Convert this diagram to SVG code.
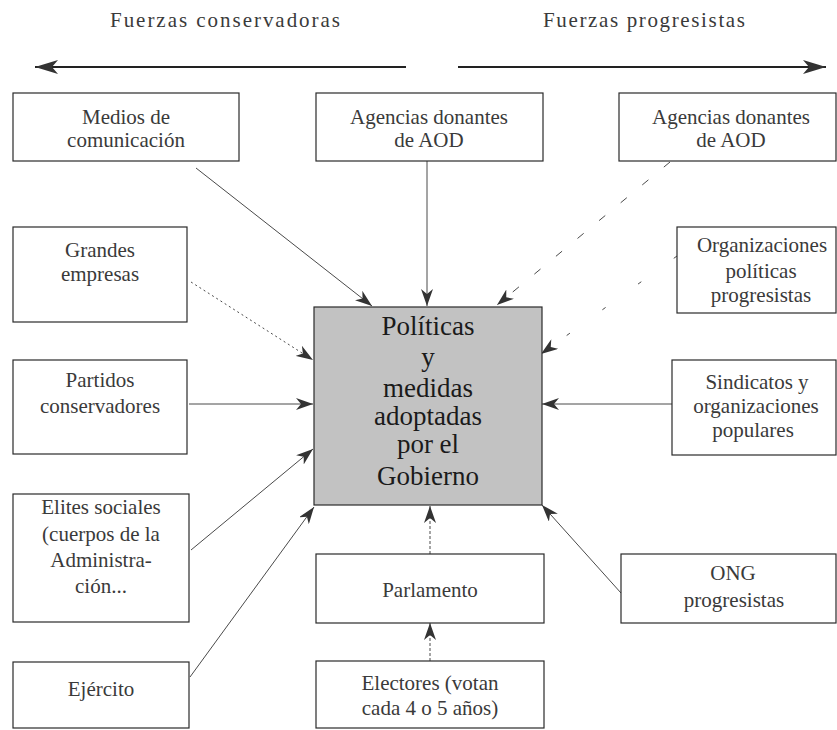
<svg xmlns="http://www.w3.org/2000/svg" width="837" height="730" viewBox="0 0 837 730">
<style>
  .box { fill: #ffffff; stroke: #2a2a2a; stroke-width: 1.2; }
  .center { fill: #c2c2c2; stroke: #2a2a2a; stroke-width: 1.2; }
  text { font-family: "Liberation Serif", "DejaVu Serif", serif; text-anchor: middle; }
  .t { font-size: 21px; fill: #3a3a3a; }
  .tc { font-size: 27px; fill: #1a1a1a; }
  .th { font-size: 21px; fill: #3a3a3a; }
  .c { fill: none; stroke: #4a4a4a; stroke-width: 1; marker-end: url(#ah); }
</style>
<defs>
  <marker id="ah" markerUnits="userSpaceOnUse" markerWidth="18" markerHeight="12" refX="17" refY="6" orient="auto">
    <path d="M0,0 L17,6 L0,12 L5,6 Z" fill="#333"/>
  </marker>
  <marker id="big" markerUnits="userSpaceOnUse" markerWidth="24" markerHeight="14" refX="23" refY="7" orient="auto">
    <path d="M0,0 L23,7 L0,14 L6,7 Z" fill="#333"/>
  </marker>
</defs>

<g id="header">
  <text class="th" x="225" y="27" textLength="230" lengthAdjust="spacing">Fuerzas conservadoras</text>
  <text class="th" x="644" y="27" textLength="202" lengthAdjust="spacing">Fuerzas progresistas</text>
  <line x1="406" y1="67" x2="35" y2="67" stroke="#222" stroke-width="2" marker-end="url(#big)"/>
  <line x1="458" y1="67" x2="826" y2="67" stroke="#222" stroke-width="2" marker-end="url(#big)"/>
</g>

<g id="connectors">
  <line class="c" x1="196" y1="168" x2="372" y2="306"/>
  <line class="c" x1="427" y1="161" x2="427" y2="306" stroke="#333"/>
  <line class="c" x1="670" y1="162" x2="497" y2="305" stroke="#777" stroke-dasharray="8,20"/>
  <line class="c" x1="191" y1="282" x2="313" y2="360" stroke-dasharray="2,3"/>
  <line class="c" x1="677" y1="256" x2="541" y2="354" stroke="#888" stroke-dasharray="4,40"/>
  <line class="c" x1="189" y1="404" x2="313" y2="404"/>
  <line class="c" x1="672" y1="404" x2="542" y2="404" stroke="#666"/>
  <line class="c" x1="191" y1="550" x2="313" y2="449" stroke="#888"/>
  <line class="c" x1="190" y1="677" x2="314" y2="507" stroke="#777"/>
  <line class="c" x1="621" y1="593" x2="542" y2="505"/>
  <line class="c" x1="430" y1="554" x2="430" y2="506" stroke-dasharray="3,2"/>
  <line class="c" x1="430" y1="661" x2="430" y2="623" stroke-dasharray="3,2"/>
</g>

<g id="politicas">
  <rect class="center" x="314" y="307" width="228" height="198"/>
  <text class="tc" x="428" y="335">Políticas</text>
  <text class="tc" x="428" y="366">y</text>
  <text class="tc" x="428" y="397">medidas</text>
  <text class="tc" x="428" y="425">adoptadas</text>
  <text class="tc" x="428" y="453">por el</text>
  <text class="tc" x="428" y="485">Gobierno</text>
</g>

<g id="medios">
  <rect class="box" x="13" y="93" width="226" height="68"/>
  <text class="t" x="126" y="124">Medios de</text>
  <text class="t" x="126" y="147">comunicación</text>
</g>

<g id="agencias1">
  <rect class="box" x="316" y="93" width="227" height="68"/>
  <text class="t" x="429" y="124">Agencias donantes</text>
  <text class="t" x="429" y="147">de AOD</text>
</g>

<g id="agencias2">
  <rect class="box" x="619" y="93" width="217" height="68"/>
  <text class="t" x="731" y="124">Agencias donantes</text>
  <text class="t" x="731" y="147">de AOD</text>
</g>

<g id="grandes">
  <rect class="box" x="13" y="227" width="174" height="95"/>
  <text class="t" x="100" y="257">Grandes</text>
  <text class="t" x="100" y="281">empresas</text>
</g>

<g id="organizaciones">
  <rect class="box" x="677" y="227" width="159" height="86"/>
  <text class="t" x="762" y="252">Organizaciones</text>
  <text class="t" x="761" y="278">políticas</text>
  <text class="t" x="761" y="302">progresistas</text>
</g>

<g id="partidos">
  <rect class="box" x="13" y="360" width="174" height="94"/>
  <text class="t" x="100" y="387">Partidos</text>
  <text class="t" x="100" y="413">conservadores</text>
</g>

<g id="sindicatos">
  <rect class="box" x="672" y="360" width="164" height="95"/>
  <text class="t" x="757" y="389">Sindicatos y</text>
  <text class="t" x="756" y="413">organizaciones</text>
  <text class="t" x="753" y="437">populares</text>
</g>

<g id="elites">
  <rect class="box" x="13" y="494" width="176" height="128"/>
  <text class="t" x="101" y="514">Elites sociales</text>
  <text class="t" x="101" y="541">(cuerpos de la</text>
  <text class="t" x="101" y="567">Administra-</text>
  <text class="t" x="101" y="593">ción...</text>
</g>

<g id="ejercito">
  <rect class="box" x="13" y="662" width="176" height="66"/>
  <text class="t" x="101" y="696">Ejército</text>
</g>

<g id="parlamento">
  <rect class="box" x="316" y="554" width="228" height="69"/>
  <text class="t" x="430" y="597">Parlamento</text>
</g>

<g id="electores">
  <rect class="box" x="316" y="661" width="228" height="67"/>
  <text class="t" x="430" y="690">Electores (votan</text>
  <text class="t" x="430" y="715">cada 4 o 5 años)</text>
</g>

<g id="ong">
  <rect class="box" x="621" y="554" width="215" height="69"/>
  <text class="t" x="733" y="580">ONG</text>
  <text class="t" x="734" y="607">progresistas</text>
</g>
</svg>
